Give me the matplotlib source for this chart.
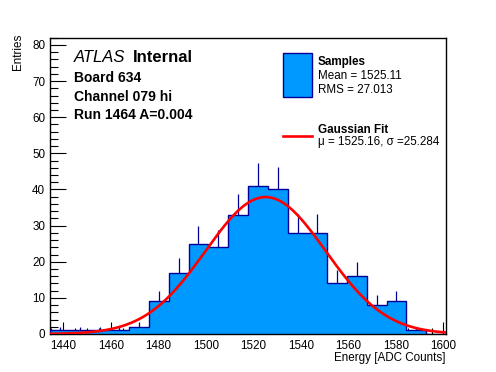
import numpy as np
import matplotlib
matplotlib.use('Agg')
import matplotlib.pyplot as plt
from matplotlib.patches import Rectangle
from matplotlib.lines import Line2D
from matplotlib.ticker import MultipleLocator

plt.rcParams['font.family'] = ['Liberation Sans', 'DejaVu Sans']

# histogram contents (20 bins over the axis range)
x_range = (1434.4, 1601.1)
counts = [1, 1, 1, 1, 2, 9, 17, 25, 24, 33, 41, 40, 28, 28, 14, 16, 8, 9, 1, 0]

# gaussian fit
fit_mu = 1525.16
fit_sigma = 25.284
fit_amp = 37.9

info_lines = ['Board 634', 'Channel 079 hi', 'Run 1464 A=0.004']
leg_samples = ['Samples', 'Mean = 1525.11', 'RMS = 27.013']
leg_fit = ['Gaussian Fit', '\u03bc = 1525.16, \u03c3 =25.284']

W, H = 496, 372
fill_col = '#0099ff'
edge_col = '#000099'

def fx(px):
    return px / W

def fy(py):
    return 1 - py / H

fig = plt.figure(figsize=(W / 100, H / 100), dpi=100)
ax = fig.add_axes([fx(50), fy(334), fx(446) - fx(50), fy(37.7) - fy(334)])

edges = np.linspace(x_range[0], x_range[1], len(counts) + 1)
counts = np.array(counts, dtype=float)
centers = 0.5 * (edges[:-1] + edges[1:])

ax.stairs(counts, edges, fill=True, color=fill_col, zorder=2)
ax.stairs(counts, edges, color=edge_col, linewidth=1.0, zorder=3)
nz = counts > 0
ax.vlines(centers[nz], counts[nz], counts[nz] + np.sqrt(counts[nz]),
          color=edge_col, linewidth=0.9, zorder=3)

xs = np.linspace(x_range[0], x_range[1], 400)
ys = fit_amp * np.exp(-0.5 * ((xs - fit_mu) / fit_sigma) ** 2)
ax.plot(xs, ys, color='#ff0000', linewidth=1.9, zorder=4)

ax.set_xlim(*x_range)
ax.set_ylim(0, 82)
ax.xaxis.set_major_locator(MultipleLocator(20))
ax.xaxis.set_minor_locator(MultipleLocator(5))
ax.yaxis.set_major_locator(MultipleLocator(10))
ax.yaxis.set_minor_locator(MultipleLocator(2))
ax.tick_params(which='both', direction='in', top=False, right=False,
               labelsize=8.4, width=0.8)
ax.tick_params(which='major', length=11.5)
ax.tick_params(which='minor', length=5.5)
ax.tick_params(axis='x', which='major', length=8.5, pad=4)
ax.tick_params(axis='x', which='minor', length=4.5)
for sp in ax.spines.values():
    sp.set_linewidth(1.0)

fig.text(fx(24), fy(34), 'Entries', rotation=90, ha='right', va='top', fontsize=8.4)
fig.text(fx(445), fy(361), 'Energy [ADC Counts]', ha='right', va='baseline', fontsize=8.4)

fig.text(fx(74), fy(61.7), 'ATLAS', style='italic', fontsize=12, va='baseline')
fig.text(fx(133), fy(61.7), 'Internal', weight='bold', fontsize=12, va='baseline')
for i, s in enumerate(info_lines):
    fig.text(fx(74), fy(82.3 + 18.5 * i), s, weight='bold', fontsize=10, va='baseline')

# legend
fig.patches.append(Rectangle((fx(283.3), fy(96.7)), fx(311.7) - fx(283.3), fy(53.3) - fy(96.7),
                             transform=fig.transFigure, facecolor=fill_col,
                             edgecolor=edge_col, linewidth=1.0))
fig.lines.append(Line2D([fx(283.3), fx(311.7)], [fy(136), fy(136)],
                        transform=fig.transFigure, color='#ff0000', linewidth=1.9))
fig.text(fx(317.7), fy(65), leg_samples[0], weight='bold', fontsize=8.4, va='baseline')
fig.text(fx(317.7), fy(79.3), leg_samples[1], fontsize=8.4, va='baseline')
fig.text(fx(317.7), fy(93.3), leg_samples[2], fontsize=8.4, va='baseline')
fig.text(fx(317.7), fy(132.7), leg_fit[0], weight='bold', fontsize=8.4, va='baseline')
fig.text(fx(317.7), fy(145.3), leg_fit[1], fontsize=8.4, va='baseline')

fig.savefig('out.png', dpi=100)
